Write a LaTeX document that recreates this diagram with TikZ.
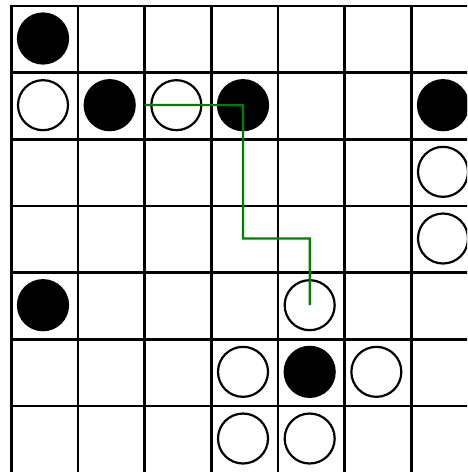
\documentclass[tikz,border=0pt]{standalone}
\usepackage{tikz}
\tikzset{
  gridline/.style={line width=2.4pt, black},
  stone/.style={circle, minimum size=50pt, inner sep=0pt, line width=2.2pt, draw=black},
  blackstone/.style={stone, fill=black},
  whitestone/.style={stone, fill=white},
  route/.style={line width=2.2pt, draw={rgb,255:red,0;green,128;blue,0}}
}
\begin{document}
\begin{tikzpicture}[x=1pt,y=-1pt]
\useasboundingbox (0,0) rectangle (467,472);
\begin{scope}
\clip (0,0) rectangle (467,472);
\fill[white] (0,0) rectangle (467,472);
\foreach \k in {0,...,7} {
  \draw[gridline] ({11.3+66.67*\k},4.8) -- ({11.3+66.67*\k},480);
}
\foreach \k in {0,...,6} {
  \draw[gridline] (10.1,{6+66.67*\k}) -- (480,{6+66.67*\k});
}
\foreach \r/\c/\s in {0/0/blackstone,1/0/whitestone,1/1/blackstone,1/2/whitestone,1/3/blackstone,1/6/blackstone,
  2/6/whitestone,3/6/whitestone,4/0/blackstone,4/4/whitestone,5/3/whitestone,5/4/blackstone,5/5/whitestone,
  6/3/whitestone,6/4/whitestone} {
  \node[\s] (s\r\c) at ({43+66.67*\c},{38.5+66.67*\r}) {};
}
\coordinate (start) at (144.6,105);
\coordinate (b1) at (s13.center |- 0,238.5);
\coordinate (b2) at (s44.center |- 0,238.5);
\draw[route] (start) -- (s13.center) -- (b1) -- (b2) -- (s44.center);
\end{scope}
\end{tikzpicture}
\end{document}
